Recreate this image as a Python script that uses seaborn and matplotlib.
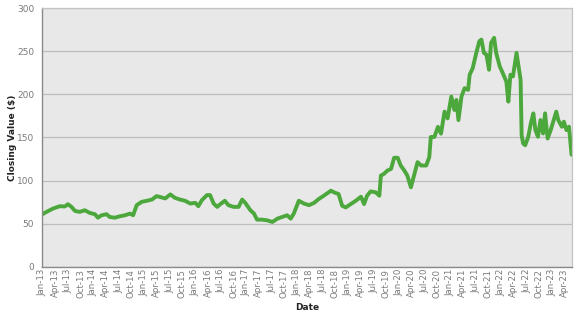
import numpy as np
import pandas as pd
import matplotlib
matplotlib.use("Agg")
import matplotlib.pyplot as plt
import matplotlib.dates as mdates
import seaborn as sns

# decimal-year positions of the read-off points and their closing values ($)
years = [
    2013.00, 2013.08, 2013.21, 2013.34, 2013.44, 2013.50, 2013.57, 2013.64, 2013.73, 2013.83,
    2013.93, 2014.03, 2014.09, 2014.16, 2014.26, 2014.32, 2014.42, 2014.52, 2014.62, 2014.72,
    2014.78, 2014.85, 2014.95, 2015.05, 2015.15, 2015.24, 2015.34, 2015.41, 2015.51, 2015.60,
    2015.70, 2015.80, 2015.90, 2016.00, 2016.06, 2016.13, 2016.23, 2016.29, 2016.36, 2016.43,
    2016.49, 2016.58, 2016.65, 2016.75, 2016.85, 2016.92, 2016.98, 2017.08, 2017.15, 2017.21,
    2017.31, 2017.41, 2017.51, 2017.61, 2017.70, 2017.80, 2017.87, 2017.93, 2018.03, 2018.13,
    2018.23, 2018.33, 2018.42, 2018.52, 2018.66, 2018.72, 2018.81, 2018.88, 2018.95, 2019.05,
    2019.15, 2019.25, 2019.31, 2019.37, 2019.44, 2019.54, 2019.61, 2019.64, 2019.70, 2019.77,
    2019.84, 2019.90, 2019.97, 2020.03, 2020.10, 2020.16, 2020.23, 2020.30, 2020.36, 2020.43,
    2020.53, 2020.59, 2020.62, 2020.69, 2020.76, 2020.82, 2020.89, 2020.95, 2021.02, 2021.08,
    2021.12, 2021.16, 2021.22, 2021.28, 2021.35, 2021.38, 2021.44, 2021.51, 2021.57, 2021.61,
    2021.66, 2021.71, 2021.76, 2021.80, 2021.86, 2021.90, 2021.97, 2022.03, 2022.10, 2022.14,
    2022.18, 2022.23, 2022.26, 2022.30, 2022.35, 2022.38, 2022.40, 2022.43, 2022.47, 2022.53,
    2022.58, 2022.63, 2022.67, 2022.72, 2022.77, 2022.82, 2022.86, 2022.91, 2022.97, 2023.03,
    2023.08, 2023.12, 2023.19, 2023.23, 2023.28, 2023.33, 2023.38,
]
closing = [
    61.0, 63.7, 67.6, 70.3, 70.0, 72.6, 69.5, 64.8, 63.7, 65.6,
    62.5, 61.0, 57.0, 59.8, 61.0, 57.8, 57.0, 58.6, 59.8, 61.7,
    59.8, 71.5, 75.4, 76.6, 78.0, 82.0, 80.5, 79.3, 84.0, 80.0,
    78.0, 76.6, 73.4, 74.2, 70.3, 77.3, 83.2, 83.2, 73.4, 69.5,
    72.6, 76.6, 71.5, 69.5, 69.5, 78.0, 74.2, 65.6, 61.7, 54.7,
    54.7, 53.9, 52.0, 55.9, 57.8, 59.8, 55.9, 61.7, 76.6, 73.4,
    71.5, 74.2, 78.6, 82.5, 88.3, 86.4, 84.4, 70.8, 68.9, 72.8,
    76.7, 81.3, 72.8, 82.5, 87.5, 86.4, 82.5, 105.8, 107.8, 111.7,
    113.6, 126.5, 126.5, 117.5, 111.7, 105.8, 92.2, 107.8, 121.4, 117.5,
    117.5, 127.2, 150.6, 150.6, 162.3, 154.5, 180.0, 172.2, 197.5, 181.9,
    193.6, 170.2, 197.5, 207.2, 205.3, 222.8, 230.5, 248.1, 261.7, 263.6,
    248.1, 246.1, 228.6, 259.7, 265.6, 248.1, 232.5, 224.7, 215.0, 191.6,
    222.8, 220.8, 232.5, 248.1, 228.6, 216.9, 152.7, 143.0, 141.0, 150.8,
    166.3, 178.0, 158.6, 150.8, 170.2, 154.7, 178.0, 148.8, 158.6, 170.2,
    180.0, 170.2, 162.5, 168.3, 158.6, 162.5, 130.0,
]
y_ticks = [0, 50, 100, 150, 200, 250, 300]


def to_date(y):
    yr = int(np.floor(y + 1e-9))
    return pd.Timestamp(yr, 1, 1) + pd.Timedelta(days=(y - yr) * 365.25)


df = pd.DataFrame({"Date": [to_date(y) for y in years], "Close": closing})

fig = plt.figure(figsize=(5.77, 3.15), dpi=100)
ax = fig.add_axes([0.0735, 0.153, 0.9175, 0.821])
ax.set_facecolor("#e8e8e8")

sns.lineplot(data=df, x="Date", y="Close", ax=ax, color="#4ca83c",
             linewidth=2.8, solid_joinstyle="round", solid_capstyle="round")

ax.set_ylim(0, 300)
ax.set_yticks(y_ticks)
ax.set_xlim(pd.Timestamp(2013, 1, 1), to_date(2023.385))
ax.xaxis.set_major_locator(mdates.MonthLocator(bymonth=[1, 4, 7, 10]))
ax.xaxis.set_major_formatter(mdates.DateFormatter("%b-%y"))

ax.grid(axis="y", color="#bdbdbd", linewidth=0.9)
ax.grid(axis="x", visible=False)
ax.set_axisbelow(True)

for s in ["top", "right"]:
    ax.spines[s].set_color("#c4c4c4")
    ax.spines[s].set_linewidth(0.9)
for s in ["left", "bottom"]:
    ax.spines[s].set_color("#8a8a8a")
    ax.spines[s].set_linewidth(1.0)

ax.tick_params(axis="y", length=0, pad=6, labelsize=6.5, labelcolor="#7a7a7a")
ax.tick_params(axis="x", length=0, pad=1.5, labelsize=6.2, labelcolor="#7a7a7a",
               rotation=90)

ax.set_ylabel("Closing Value ($)", fontsize=6.5, fontweight="bold", color="#222222")
ax.set_xlabel("Date", fontsize=6.5, fontweight="bold", color="#222222")
ax.yaxis.set_label_coords(-0.056, 0.5)
ax.xaxis.set_label_coords(0.5, -0.156)
ax.yaxis.label.set_verticalalignment("center")
ax.xaxis.label.set_verticalalignment("center")

fig.savefig("out.png", dpi=100, facecolor="white")
